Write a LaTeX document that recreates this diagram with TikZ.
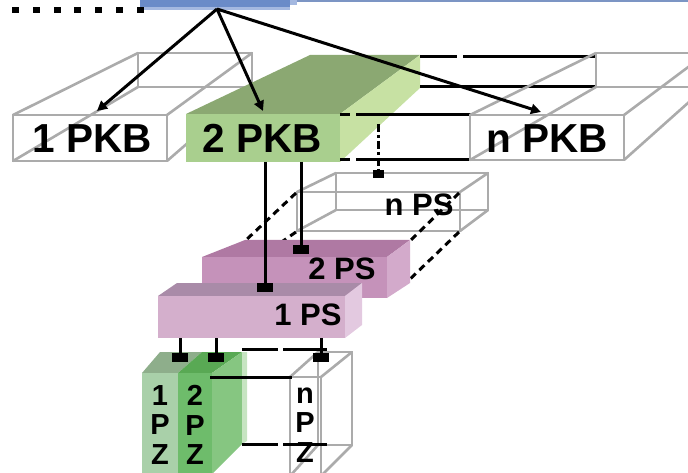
\documentclass[tikz,border=0pt]{standalone}
\usepackage{fontspec}
\setmainfont{Liberation Sans}
\usetikzlibrary{arrows.meta}
\definecolor{wiregray}{HTML}{ABABAB}
\definecolor{blueA}{HTML}{6A8BC8}
\definecolor{blueB}{HTML}{A4B8E0}
\definecolor{blueL}{HTML}{7C95C4}
\definecolor{gTop}{HTML}{8BA872}
\definecolor{gFront}{HTML}{A9CF8E}
\definecolor{gRight}{HTML}{C7E1A3}
\definecolor{psTwoFront}{HTML}{C592BA}
\definecolor{psTwoTop}{HTML}{AF79A3}
\definecolor{psTwoRight}{HTML}{D3AACB}
\definecolor{psOneFront}{HTML}{D4AFCC}
\definecolor{psOneTop}{HTML}{A98BA8}
\definecolor{psOneRight}{HTML}{E3C9E0}
\definecolor{pzOneFront}{HTML}{A9D0A9}
\definecolor{pzOneTop}{HTML}{8EAE8B}
\definecolor{pzTwoFront}{HTML}{6EBC6B}
\definecolor{pzTwoTop}{HTML}{59A954}
\definecolor{pzTwoRight}{HTML}{86C681}
\definecolor{pzTwoEdge}{HTML}{C6E4C1}
\begin{document}
\begin{tikzpicture}[x=1pt,y=-1pt,
  wire/.style={draw=wiregray,line width=2.6pt},
  blk/.style={draw=black,line width=3pt},
  arr/.style={blk,-{Triangle[length=10pt,width=10pt]}},
  dsh/.style={blk,dash pattern=on 7pt off 5pt},
  dashdot/.style={blk,dash pattern=on 8pt off 3pt on 3pt off 3pt},
  sqbox/.style={fill=black,inner sep=0pt,minimum width=16pt,minimum height=9pt},
  sqsmall/.style={fill=black,inner sep=0pt,minimum width=11pt,minimum height=8pt},
  pkb/.style={font=\bfseries\fontsize{40.5}{40.5}\selectfont,anchor=base,inner sep=0pt},
  pslbl/.style={font=\bfseries\fontsize{31}{31}\selectfont,anchor=base,inner sep=0pt},
  pzlbl/.style={font=\bfseries\fontsize{29}{29.5}\selectfont,align=center,inner sep=0pt}
]
\useasboundingbox (0,0) rectangle (688,473);
\begin{scope}
\clip (0,0) rectangle (688,473);
% top bar and dotted line
\fill[blueA] (140,0) rectangle (290,7);
\fill[blueB] (140,7) rectangle (290,10);
\fill[blueB] (290,0) rectangle (297,5);
\draw[blueL,line width=1.4pt] (297,1) -- (688,1);
\foreach \i in {0,...,6} \fill (12+20.8*\i,7) rectangle ++(7,6);
\coordinate (apex) at (217,9);

% 1 PKB wireframe
\draw[wire] (13,115) rectangle (167,161);
\draw[wire] (138,53) rectangle (252,87);
\draw[wire] (13,115)--(138,53) (167,115)--(252,53) (167,161)--(252,87) (13,161)--(138,87);

% 2 PKB green box
\fill[gTop] (186,114) -- (310,55) -- (420,55) -- (340,114) -- cycle;
\fill[gRight] (340,114) -- (420,55) -- (420,88) -- (340,162) -- cycle;
\fill[gFront] (186,114) rectangle (340,162);

% hidden box lines to n PKB
\draw[blk] (420,57) -- (457,57) (463,57) -- (596,57);
\draw[blk] (420,87) -- (597,87);
\draw[blk] (340,115) -- (350,115) (356,115) -- (471,115);
\draw[blk] (340,160) -- (350,160) (356,160) -- (471,160);

% n PKB wireframe
\draw[wire] (470,115) rectangle (624,160);
\draw[wire] (596,53) -- (707,53) (596,53) -- (596,87) -- (707,87);
\draw[wire] (470,115)--(596,53) (624,115)--(707,53) (624,160)--(707,86) (470,160)--(596,87);

\node[pkb] (pkb1) at (92,153) {1 PKB};
\node[pkb] (pkb2) at (262,153) {2 PKB};
\node[pkb] (pkbn) at (547,153) {n PKB};

% arrows
\coordinate (t1) at (97,111);
\coordinate (t2) at (263,111);
\coordinate (tn) at (541,112);
\draw[arr] (apex) -- (t1);
\draw[arr] (apex) -- (t2);
\draw[arr] (apex) -- (tn);

% n PS wireframe
\draw[wire] (297,192) rectangle (460,231);
\draw[wire] (336,173) rectangle (488,210);
\draw[wire] (297,192)--(336,173) (460,192)--(488,173) (460,231)--(488,210) (297,231)--(336,210);
\node[pslbl] (psn) at (419,216) {n PS};

\coordinate (dd) at (378,124);
\node[sqsmall] (sqn) at (378,174) {};
\draw[dashdot] (dd) -- (sqn.center);

% dashed hidden edges
\draw[dsh] (296,193) -- (245,241);
\draw[dsh] (296,232) -- (283,241);
\draw[dsh] (459,193) -- (410,241);
\draw[dsh] (459,232) -- (408,281);

% 2 PS
\fill[psTwoTop] (202,257) -- (245,240) -- (410,240) -- (387,257) -- cycle;
\fill[psTwoRight] (387,257) -- (410,240) -- (410,283) -- (387,298) -- cycle;
\fill[psTwoFront] (202,257) rectangle (387,298);
\node[pslbl] (ps2) at (342,279) {2 PS};

% 1 PS
\fill[psOneTop] (158,296) -- (177,283) -- (362,283) -- (345,296) -- cycle;
\fill[psOneRight] (345,296) -- (362,283) -- (362,325) -- (345,338) -- cycle;
\fill[psOneFront] (158,296) rectangle (345,338);
\node[pslbl] (ps1) at (308,325) {1 PS};

% connectors from 2 PKB
\coordinate (g1) at (265,162);
\coordinate (g2) at (301,162);
\node[sqbox] (q1) at (265,287) {};
\node[sqbox] (q2) at (301,249) {};
\draw[blk] (g1) -- (q1.center);
\draw[blk] (g2) -- (q2.center);

% PZ boxes
\fill[pzOneTop] (142,373) -- (160,352) -- (202,352) -- (178,373) -- cycle;
\fill[pzOneFront] (142,373) rectangle (178,476);
\fill[pzTwoTop] (178,373) -- (202,352) -- (242,352) -- (212,373) -- cycle;
\fill[pzTwoRight] (212,373) -- (242,352) -- (242,444) -- (212,474) -- cycle;
\fill[pzTwoEdge] (242,352) -- (247,352) -- (247,441) -- (242,444) -- cycle;
\fill[pzTwoFront] (178,373) rectangle (212,476);

\draw[wire] (290,377) rectangle (321,476);
\draw[wire] (318,352) rectangle (352,445);
\draw[wire] (290,377)--(318,352) (321,377)--(352,352) (321,476)--(352,445) (290,476)--(318,445);

\draw[blk] (242,349) -- (278,349) (283,349) -- (327,349);
\draw[blk] (210,377) -- (292,377);
\draw[blk] (242,444) -- (278,444) (283,444) -- (327,444);

\coordinate (p1) at (180,338);
\coordinate (p2) at (216,338);
\coordinate (p3) at (321,338);
\node[sqbox] (z1) at (180,357) {};
\node[sqbox] (z2) at (216,357) {};
\node[sqbox] (z3) at (321,357) {};
\draw[blk] (p1) -- (z1.center);
\draw[blk] (p2) -- (z2.center);
\draw[blk] (p3) -- (z3.center);

\node[pzlbl] (pz1) at (160,425) {1\\P\\Z};
\node[pzlbl] (pz2) at (195,425) {2\\P\\Z};
\node[pzlbl] (pzn) at (305,425) {n\\P\\Z};
\end{scope}
\end{tikzpicture}
\end{document}
